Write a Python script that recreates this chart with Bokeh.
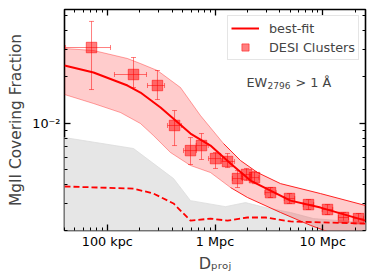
from bokeh.plotting import figure
from bokeh.models import (LogAxis, FixedTicker, Whisker, TeeHead, Legend, LegendItem,
                          Label, ColumnDataSource, Range1d)
from bokeh.embed import file_html
from bokeh.resources import INLINE

FONT = "DejaVu Sans"

# ---- data: projected distance (kpc) and MgII covering fraction ----
pt_r = [71.3, 175, 292, 421, 592, 749, 1011, 1307, 1618, 1961, 2328, 3278, 4920, 7388, 11090, 15620, 21530]
pt_r_lo = [40.9, 116.5, 236, 362, 510, 668, 870, 1150, 1450, 1780, 2120, 2900, 4400, 6600, 9900, 14000, 19300]
pt_r_hi = [107, 231, 340, 489, 673, 867, 1175, 1520, 1800, 2170, 2560, 3700, 5500, 8250, 12400, 17400, 24000]
pt_f = [0.0311, 0.02075, 0.01759, 0.00966, 0.00663, 0.00715, 0.00588, 0.00563, 0.00436, 0.00463,
        0.00442, 0.00353, 0.00323, 0.00295, 0.00274, 0.00243, 0.00239]
pt_f_lo = [0.01656, 0.01707, 0.01426, 0.00715, 0.00538, 0.0058, 0.00507, 0.00514, 0.00381, 0.00423,
           0.00404, 0.00328, 0.0030, 0.00274, 0.00254, 0.00225, 0.00222]
pt_f_hi = [0.0460, 0.02677, 0.02203, 0.01209, 0.00806, 0.00856, 0.00644, 0.00634, 0.00491, 0.00507,
           0.00484, 0.00381, 0.00348, 0.00318, 0.00295, 0.00262, 0.00258]

fit_r = [40, 74.4, 154, 203, 312, 430, 592, 908, 1393, 2137, 3278, 5027, 9548, 25000]
fit_f = [0.02374, 0.02138, 0.01759, 0.01584, 0.01264, 0.0104, 0.00856, 0.00715, 0.00546, 0.00423,
         0.00364, 0.00313, 0.00282, 0.00232]

band_up_r = [40, 74.4, 154, 203, 292, 478, 733, 1200, 1726, 2482, 4059, 9548, 25000]
band_up_f = [0.03064, 0.02974, 0.02637, 0.02446, 0.02203, 0.01707, 0.01121, 0.00737, 0.00571,
             0.00477, 0.00404, 0.00348, 0.00291]
band_lo_r = [40, 74.4, 132.5, 203, 268, 386, 592, 908, 1393, 2004, 4059, 7713, 25000]
band_lo_f = [0.01537, 0.01343, 0.01173, 0.00995, 0.00831, 0.00644, 0.0053, 0.00477, 0.00381,
             0.00328, 0.00262, 0.00216, 0.0016]

grey_r = [40, 175, 412, 592, 1252, 1920, 2945, 5027, 8222, 25000]
grey_hi = [0.00806, 0.00684, 0.00436, 0.00313, 0.00286, 0.00304, 0.00282, 0.00262, 0.00239, 0.00225]
grey_lo = [0.001, 0.001, 0.001, 0.001, 0.001, 0.001, 0.001, 0.001, 0.001, 0.001]

dash_r = [40, 175, 268, 412, 592, 908, 1307, 2004, 2945, 5027, 25000]
dash_f = [0.00387, 0.00375, 0.00348, 0.003, 0.00232, 0.00239, 0.00232, 0.00243, 0.00243, 0.00229, 0.00222]

x_ticks = [100, 1000, 10000]
x_tick_labels = {100: "100 kpc", 1000: "1 Mpc", 10000: "10 Mpc"}
y_ticks = [0.01]
y_tick_labels = {0.01: "10\u207b\u00b2"}

x_minor = [k * 10 ** n for n in range(1, 5) for k in range(2, 10)]
y_minor = [k * 10.0 ** n for n in range(-4, 0) for k in range(2, 10)]

p = figure(frame_width=301, frame_height=221,
           x_axis_type="log", y_axis_type="log",
           x_range=Range1d(40, 25000), y_range=Range1d(0.002, 0.055),
           output_backend="svg", toolbar_location=None,
           min_border_left=64, min_border_right=9, min_border_top=9, min_border_bottom=48)
p.grid.visible = False
p.outline_line_color = "black"
p.outline_line_width = 1.6
p.background_fill_color = "white"
p.border_fill_color = "white"

# grey region
p.patch(grey_r + grey_r[::-1], grey_hi + grey_lo[::-1], fill_color="#e6e6e6",
        line_color="#dcdcdc", line_width=0.8)

# fit band
p.patch(band_up_r + band_lo_r[::-1], band_up_f + band_lo_f[::-1], fill_color="red", fill_alpha=0.2,
        line_color=None)
p.line(band_up_r[:8], band_up_f[:8], line_color="red", line_alpha=0.35, line_width=1)
p.line(band_lo_r[:9], band_lo_f[:9], line_color="red", line_alpha=0.35, line_width=1)
p.line(band_up_r[7:], band_up_f[7:], line_color="red", line_alpha=0.85, line_width=1)
p.line(band_lo_r[8:], band_lo_f[8:], line_color="red", line_alpha=0.85, line_width=1)

# dashed line
p.line(dash_r, dash_f, line_color="red", line_width=1.8, line_dash="6 3")

# best fit
r_fit = p.line(fit_r, fit_f, line_color="red", line_width=2)

# data points with error bars
src = ColumnDataSource(dict(r=pt_r, rlo=pt_r_lo, rhi=pt_r_hi, f=pt_f, flo=pt_f_lo, fhi=pt_f_hi))
for dim, base, lo, hi in (("height", "r", "flo", "fhi"), ("width", "f", "rlo", "rhi")):
    w = Whisker(source=src, base=base, lower=lo, upper=hi, dimension=dim,
                line_color="red", line_alpha=0.5, line_width=1,
                upper_head=TeeHead(size=5, line_color="red", line_alpha=0.5, line_width=1),
                lower_head=TeeHead(size=5, line_color="red", line_alpha=0.5, line_width=1))
    p.add_layout(w)
r_sq = p.scatter("r", "f", source=src, marker="square", size=10.5, fill_color="red", fill_alpha=0.5,
                 line_color="red", line_alpha=0.5)
# legend-only cross (no data rows) to mimic the error-bar legend symbol
r_cr = p.scatter(x=[], y=[], marker="cross", size=10, line_color="red", line_alpha=0.6, line_width=1)

# axes
def style_axis(ax, labels=True):
    ax.axis_line_color = None
    ax.major_tick_in = 6
    ax.major_tick_out = 0
    ax.minor_tick_in = 3
    ax.minor_tick_out = 0
    ax.major_tick_line_width = 1.3
    ax.minor_tick_line_width = 1
    ax.major_tick_line_color = "black"
    ax.minor_tick_line_color = "black"
    ax.major_label_text_font = FONT
    if labels:
        ax.major_label_text_font_size = "12.8px"
        ax.major_label_text_color = "black"
    else:
        ax.major_label_text_font_size = "1px"
        ax.major_label_text_alpha = 0
        ax.major_label_standoff = 0

xt = FixedTicker(ticks=x_ticks, minor_ticks=x_minor)
yt = FixedTicker(ticks=y_ticks, minor_ticks=y_minor)
p.xaxis.ticker = xt
p.yaxis.ticker = yt
style_axis(p.xaxis[0])
style_axis(p.yaxis[0])
p.xaxis.major_label_overrides = x_tick_labels
p.yaxis.major_label_overrides = y_tick_labels
p.xaxis.major_label_standoff = 3
p.yaxis.major_label_standoff = 4
p.yaxis.axis_label = "MgII Covering Fraction"
p.yaxis.axis_label_text_font = FONT
p.yaxis.axis_label_text_font_size = "15.4px"
p.yaxis.axis_label_text_font_style = "normal"
p.yaxis.axis_label_standoff = 4
p.xaxis.axis_label = "D\u209a\u1d63\u2092\u2c7c"
p.xaxis.axis_label_text_font = FONT
p.xaxis.axis_label_text_font_size = "16px"
p.xaxis.axis_label_text_font_style = "normal"
p.xaxis.axis_label_standoff = 2

top = LogAxis(ticker=xt)
style_axis(top, labels=False)
p.add_layout(top, "above")
right = LogAxis(ticker=yt)
style_axis(right, labels=False)
p.add_layout(right, "right")

# EW annotation
p.add_layout(Label(x=182, y=148, x_units="screen", y_units="screen", text="EW",
                   text_font=FONT, text_font_size="12.8px", text_baseline="alphabetic", text_align="left"))
p.add_layout(Label(x=203, y=145, x_units="screen", y_units="screen", text="2796",
                   text_font=FONT, text_font_size="9px", text_baseline="alphabetic", text_align="left"))
p.add_layout(Label(x=231, y=148, x_units="screen", y_units="screen", text="> 1 \u00c5",
                   text_font=FONT, text_font_size="12.8px", text_baseline="alphabetic", text_align="left"))

legend = Legend(items=[LegendItem(label="best-fit", renderers=[r_fit]),
                       LegendItem(label="DESI Clusters", renderers=[r_sq, r_cr])],
                location="top_right", margin=6, padding=3, spacing=1,
                glyph_width=28, glyph_height=18, label_standoff=10,
                label_text_font=FONT, label_text_font_size="12.8px",
                border_line_color="#cccccc", border_line_width=1,
                background_fill_color="white", background_fill_alpha=0.8)
p.add_layout(legend)

open("out.html", "w").write(file_html(p, INLINE))
